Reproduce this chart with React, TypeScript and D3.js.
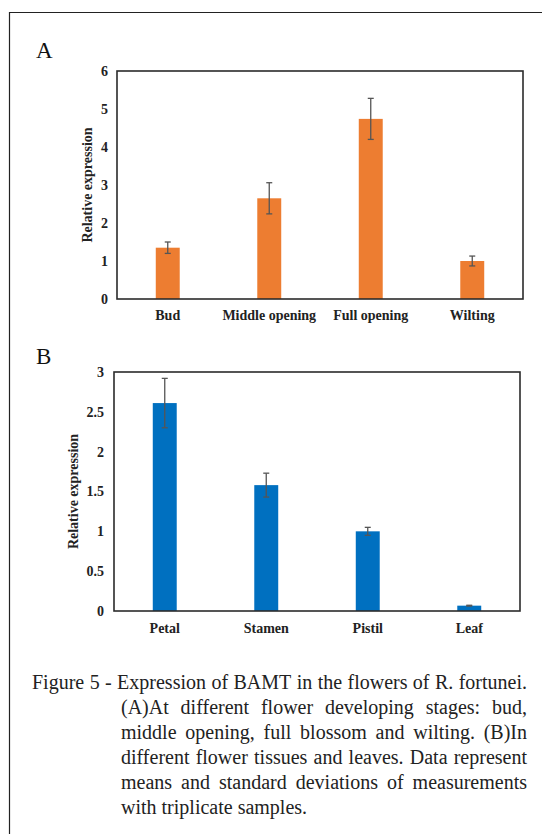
import React from 'react';
import * as d3 from 'd3';

// panel A: flower developing stages
const stageNames = ['Bud', 'Middle opening', 'Full opening', 'Wilting'];
const stageMeans = [1.35, 2.65, 4.74, 1.0];
const stageErrors = [0.15, 0.41, 0.54, 0.13];
const stageTicks = [0, 1, 2, 3, 4, 5, 6];

// panel B: flower tissues and leaves
const tissueNames = ['Petal', 'Stamen', 'Pistil', 'Leaf'];
const tissueMeans = [2.61, 1.58, 1.0, 0.067];
const tissueErrors = [0.31, 0.15, 0.05, 0.005];
const tissueTicks = [0, 0.5, 1, 1.5, 2, 2.5, 3];

const captionLines = [
    'Figure 5 - Expression of BAMT in the flowers of R. fortunei.',
    '(A)At different flower developing stages: bud,',
    'middle opening, full blossom and wilting. (B)In',
    'different flower tissues and leaves. Data represent',
    'means and standard deviations of measurements',
    'with triplicate samples.'
];

const serif = '"Liberation Serif", "Times New Roman", Times, serif';

let ctx: CanvasRenderingContext2D | null = null;
const measure = (s: string, size: number) => {
    if (!ctx) ctx = document.createElement('canvas').getContext('2d');
    if (!ctx) return s.length * size * 0.42;
    ctx.font = `${size}px "Liberation Serif"`;
    return ctx.measureText(s).width;
};

function BarPanel({ letter, letterX, letterY, left, right, top, bottom, yMax, ticks, names, means, errors, color, titleX, labelGap, catY }) {
    const xScale = d3.scaleBand().domain(names).range([left, right]).paddingInner(0.764).paddingOuter(0.382);
    const yScale = d3.scaleLinear().domain([0, yMax]).range([bottom, top]);
    const cap = 3;

    return (
        <g>
            <text x={letterX} y={letterY} fontFamily={serif} fontSize="23px" fill="#111">{letter}</text>
            {names.map((name, i) => (
                <rect
                    key={name}
                    x={xScale(name)}
                    y={yScale(means[i])}
                    width={xScale.bandwidth()}
                    height={bottom - yScale(means[i])}
                    fill={color}
                />
            ))}
            {names.map((name, i) => {
                const cx = xScale(name) + xScale.bandwidth() / 2;
                const hi = yScale(means[i] + errors[i]);
                const lo = yScale(means[i] - errors[i]);
                return (
                    <g key={name} stroke="#555" strokeWidth={1.3}>
                        <line x1={cx} x2={cx} y1={hi} y2={lo} />
                        <line x1={cx - cap} x2={cx + cap} y1={hi} y2={hi} />
                        <line x1={cx - cap} x2={cx + cap} y1={lo} y2={lo} />
                    </g>
                );
            })}
            <rect x={left} y={top} width={right - left} height={bottom - top} fill="none" stroke="#2b2b2b" strokeWidth={1.6} />
            {ticks.map(t => (
                <text
                    key={t}
                    x={left - labelGap}
                    y={yScale(t)}
                    dy="0.35em"
                    textAnchor="end"
                    fontFamily={serif}
                    fontWeight="bold"
                    fontSize="14px"
                    fill="#222"
                >
                    {t}
                </text>
            ))}
            {names.map(name => (
                <text
                    key={name}
                    x={xScale(name) + xScale.bandwidth() / 2}
                    y={catY}
                    textAnchor="middle"
                    fontFamily={serif}
                    fontWeight="bold"
                    fontSize="14px"
                    fill="#222"
                >
                    {name}
                </text>
            ))}
            <text
                transform={`translate(${titleX},${(top + bottom) / 2}) rotate(-90)`}
                dy="0.35em"
                textAnchor="middle"
                fontFamily={serif}
                fontWeight="bold"
                fontSize="14px"
                fill="#222"
            >
                Relative expression
            </text>
        </g>
    );
}

function CaptionLine({ text, x0, x1, y, justify }) {
    const size = 20;
    if (!justify) {
        return <text x={x0} y={y} fontFamily={serif} fontSize={`${size}px`} fill="#222">{text}</text>;
    }
    const words = text.split(' ');
    const widths = words.map(w => measure(w, size));
    const gap = (x1 - x0 - d3.sum(widths)) / (words.length - 1);
    let pos = x0;
    const xs = widths.map(w => {
        const p = pos;
        pos += w + gap;
        return p;
    });
    return (
        <text y={y} fontFamily={serif} fontSize={`${size}px`} fill="#222">
            {words.map((w, i) => (
                <tspan key={i} x={xs[i]}>{w}</tspan>
            ))}
        </text>
    );
}

export default function App() {
    return (
        <svg width={542} height={834} style={{ position: 'absolute', left: 0, top: 0, background: '#fff' }}>
            <rect x={0} y={0} width={542} height={834} fill="#fff" />
            {/* outer frame: top and left edges only */}
            <line x1={9} x2={542} y1={12.5} y2={12.5} stroke="#222" strokeWidth={1.2} />
            <line x1={9.5} x2={9.5} y1={12} y2={834} stroke="#222" strokeWidth={1.2} />

            <BarPanel
                letter="A" letterX={36} letterY={58}
                left={117} right={523} top={71} bottom={299}
                yMax={6} ticks={stageTicks}
                names={stageNames} means={stageMeans} errors={stageErrors}
                color="#ED7D31" titleX={87} labelGap={9} catY={320}
            />
            <BarPanel
                letter="B" letterX={36} letterY={364}
                left={114} right={520} top={372} bottom={611}
                yMax={3} ticks={tissueTicks}
                names={tissueNames} means={tissueMeans} errors={tissueErrors}
                color="#0070C0" titleX={73} labelGap={10} catY={633}
            />

            {captionLines.map((line, i) => (
                <CaptionLine
                    key={i}
                    text={line}
                    x0={i === 0 ? 32 : 121}
                    x1={527}
                    y={689 + i * 25}
                    justify={i < captionLines.length - 1}
                />
            ))}
        </svg>
    );
}
